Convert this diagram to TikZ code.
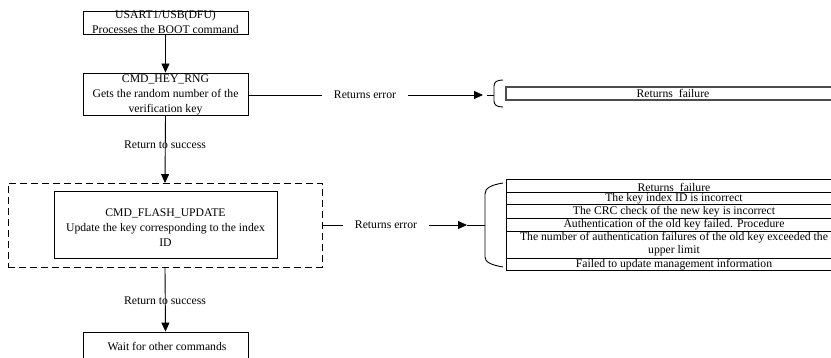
\documentclass[tikz,border=0pt]{standalone}
\usepackage{fontspec}
\setmainfont{Liberation Serif}
\usetikzlibrary{arrows.meta}
\tikzset{
  every node/.style={font=\fontsize{11.7}{15}\selectfont},
  frame/.style={draw, line width=0.9pt, inner sep=0pt},
  txt/.style={inner sep=0pt, align=center},
  link/.style={line width=0.9pt},
  arr/.style={line width=0.9pt, -{Triangle[length=9pt,width=8pt]}},
  errlbl/.style={inner ysep=0pt, inner xsep=12pt},
  bracket/.style={line width=0.9pt},
  tablegray/.style={draw=black!70, line width=1.4pt},
  tableline/.style={line width=0.9pt}
}
\begin{document}
\begin{tikzpicture}[x=1pt,y=-1pt]
\useasboundingbox (0,0) rectangle (831,358);

% main flow boxes
\node[frame, minimum width=165pt, minimum height=23pt] (boot) at (165.5,22.5) {};
\node[txt] at (boot.center) {USART1/USB(DFU)\\Processes the BOOT command};

\node[frame, minimum width=165pt, minimum height=42pt] (rng) at (165.5,94) {};
\node[txt] at (165.5,95) {CMD\_HEY\_RNG\\Gets the random number of the\\verification key};

\node[frame, dash pattern=on 7pt off 4pt, minimum width=314pt, minimum height=84pt] (group) at (165,225.5) {};
\node[frame, minimum width=223pt, minimum height=67pt] (flash) at (165.5,224.5) {};
\node[txt] at (165.5,228) {CMD\_FLASH\_UPDATE\\Update the key corresponding to the index\\ID};

\node[frame, minimum width=165pt, minimum height=38pt] (wait) at (165.5,351) {};
\node[txt] at (167,346) {Wait for other commands};

% success path
\draw[arr] (boot.south) -- (rng.north);
\draw[arr] (rng.south) -- (group.north);
\node[txt] (ok1) at (165,145) {Return to success};
\draw[arr] (group.south) -- (wait.north);
\node[txt] (ok2) at (165,301) {Return to success};

% error path of the random-number command
\node[errlbl] (err1) at (365,95) {Returns error};
\coordinate (tip1) at (483,95);
\coordinate (tick1) at (487,95);
\coordinate (mid1) at (494,95);
\draw[link] (rng.east |- err1.west) -- (err1.west);
\draw[arr] (err1.east) -- (tip1);
\draw[link] (tick1) -- (mid1);
\draw[bracket] (503,80) .. controls (497,80) and (494,82) .. (494,86)
  -- (494,101) .. controls (494,105) and (497,107) .. (503,107);

\draw[tablegray] (506,87) rectangle (840,100);
\node[txt] at (673,93.5) {Returns\ \ failure};

% error path of the flash-update command
\node[errlbl] (err2) at (386,225) {Returns error};
\coordinate (tip2) at (467,225);
\coordinate (mid2) at (485,225);
\draw[link] (group.east |- err2.west) -- (err2.west);
\draw[arr] (err2.east) -- (tip2);
\draw[link] (tip2) -- (mid2);
\draw[bracket] (503,183) .. controls (491,185) and (485,188) .. (485,194)
  -- (485,257) .. controls (485,262) and (491,265) .. (503,267);

\node[txt] at (674,187.5) {Returns\ \ failure};
\node[txt] at (674,199) {The key index ID is incorrect};
\node[txt] at (674,212) {The CRC check of the new key is incorrect};
\node[txt] at (674,224.5) {Authentication of the old key failed. Procedure};
\node[txt, font=\fontsize{11.7}{12.5}\selectfont] at (674,244)
  {The number of authentication failures of the old key exceeded the\\upper limit};
\node[txt] at (674,264.5) {Failed to update management information};

\draw[tableline] (506,179) rectangle (842,270);
\foreach \yy in {192,204.5,218,231,258}
  \draw[tableline] (506,\yy) -- (842,\yy);
\end{tikzpicture}
\end{document}
